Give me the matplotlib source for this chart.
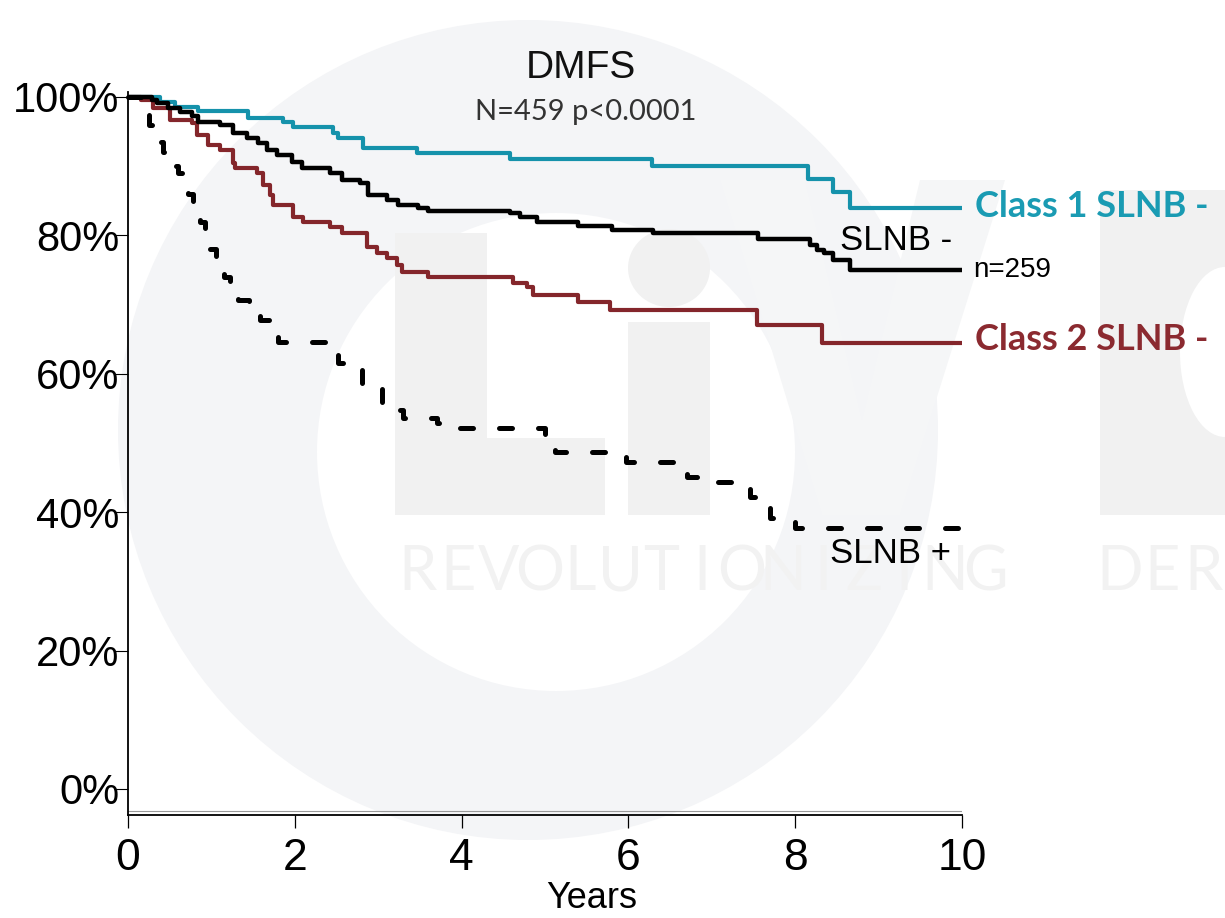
import matplotlib
matplotlib.use("Agg")
import matplotlib.pyplot as plt
from matplotlib.patches import Circle, Ellipse, Polygon, Rectangle

plt.rcParams["font.family"] = ["Liberation Sans", "DejaVu Sans"]

# Kaplan-Meier step data (years, survival %)
class1_years = [0, 0.38, 0.56, 0.84, 1.44, 1.86, 1.98, 2.46, 2.52, 2.82, 3.47, 4.58,
                6.28, 8.15, 8.45, 8.66]
class1_surv = [100, 99.3, 98.6, 98.0, 97.0, 96.4, 95.7, 94.8, 94.1, 92.6, 91.9, 91.0,
               90.0, 88.2, 86.3, 84.0]

slnb_neg_years = [0, 0.29, 0.35, 0.48, 0.62, 0.77, 0.84, 1.10, 1.26, 1.43, 1.56, 1.67,
                  1.79, 1.97, 2.09, 2.42, 2.57, 2.78, 2.88, 3.11, 3.24, 3.48, 3.60, 4.58,
                  4.70, 4.90, 5.40, 5.80, 6.29, 7.55, 8.18, 8.26, 8.35, 8.45, 8.66]
slnb_neg_surv = [100, 99.6, 99.1, 98.4, 97.8, 97.2, 96.4, 96.0, 94.8, 94.1, 93.3, 92.3,
                 91.6, 90.6, 89.7, 89.0, 88.0, 87.6, 85.8, 85.1, 84.4, 84.0, 83.5, 83.2,
                 82.7, 82.0, 81.4, 80.8, 80.3, 79.5, 78.6, 77.9, 77.5, 76.4, 75.0]

class2_years = [0, 0.15, 0.30, 0.50, 0.77, 0.83, 0.96, 1.10, 1.26, 1.28, 1.55, 1.62,
                1.70, 1.74, 1.98, 2.10, 2.42, 2.57, 2.87, 2.99, 3.11, 3.23, 3.29, 3.60,
                4.62, 4.78, 4.86, 5.40, 5.78, 7.54, 8.32]
class2_surv = [100, 99.5, 98.4, 96.7, 96.2, 94.5, 93.1, 92.3, 90.5, 89.7, 89.0, 87.3,
               85.8, 84.4, 82.7, 82.0, 81.2, 80.3, 78.3, 77.5, 76.7, 75.7, 74.7, 74.0,
               73.1, 72.5, 71.4, 70.4, 69.2, 67.1, 64.5]

slnb_pos_years = [0, 0.18, 0.25, 0.33, 0.42, 0.52, 0.60, 0.66, 0.72, 0.78, 0.86, 0.92,
                  0.97, 1.05, 1.15, 1.22, 1.32, 1.45, 1.58, 1.70, 1.80, 2.38, 2.52, 2.66,
                  2.80, 2.93, 3.05, 3.16, 3.30, 3.70, 3.88, 5.00, 5.12, 5.85, 5.97, 6.55,
                  6.70, 7.05, 7.35, 7.46, 7.60, 7.70, 7.90, 8.00]
slnb_pos_surv = [100, 98, 96, 93.5, 92, 90, 89, 88, 86, 84, 82, 80,
                 78, 76.5, 74, 72, 70.7, 69.2, 67.8, 66.3, 64.6, 63.2, 61.6, 60.5,
                 58.7, 57.9, 55.8, 54.8, 53.6, 52.9, 52.2, 50.7, 48.7, 48.0, 47.3, 45.8,
                 45.1, 44.4, 43.6, 42.2, 40.8, 39.2, 38.6, 37.7]

x_max = 10
x_ticks = [0, 2, 4, 6, 8, 10]
y_ticks = [0, 20, 40, 60, 80, 100]

TEAL = "#1592ab"
RED = "#84262b"
W, H = 1225, 918

fig = plt.figure(figsize=(W / 100, H / 100), dpi=100)

# faint watermark behind the plot
bg = fig.add_axes([0, 0, 1, 1], zorder=0)
bg.set_xlim(0, W)
bg.set_ylim(H, 0)
bg.axis("off")
wm = "#f4f5f7"
wm2 = "#f1f1f1"
bg.add_patch(Circle((528, 430), 410, color=wm, lw=0))
bg.add_patch(Circle((556, 452), 239, color="white", lw=0))
bg.add_patch(Rectangle((395, 233), 92, 282, color=wm2, lw=0))
bg.add_patch(Rectangle((395, 438), 210, 77, color=wm2, lw=0))
bg.add_patch(Ellipse((669, 268), 82, 78, color=wm2, lw=0))
bg.add_patch(Rectangle((628, 322), 82, 193, color=wm2, lw=0))
bg.add_patch(Polygon([(720, 180), (805, 180), (862, 420), (920, 180), (1005, 180),
                      (900, 515), (822, 515)], color="#f5f6f7", lw=0))
bg.add_patch(Rectangle((1100, 190), 125, 325, color=wm2, lw=0))
bg.add_patch(Ellipse((1225, 352), 90, 170, color="white", lw=0))
for i, ch in enumerate("REVOLUTIONIZING"):
    bg.text(418 + i * 40.5, 573, ch, ha="center", va="center", fontsize=44,
            family=["Lato", "DejaVu Sans"], color="#f2f2f2")
for i, ch in enumerate("DER"):
    bg.text(1120 + i * 42, 573, ch, ha="center", va="center", fontsize=44,
            family=["Lato", "DejaVu Sans"], color="#f2f2f2")

# main axes
left, right, bottom_px, top_px = 128, 962, 815, 92
ax = fig.add_axes([left / W, 1 - bottom_px / H, (right - left) / W, (bottom_px - top_px) / H],
                  zorder=1)
ax.set_facecolor("none")

ax.step(class1_years + [x_max], class1_surv + [class1_surv[-1]], where="post",
        color=TEAL, lw=3.0, solid_capstyle="butt", clip_on=False, zorder=3)
ax.step(class2_years + [x_max], class2_surv + [class2_surv[-1]], where="post",
        color=RED, lw=3.0, solid_capstyle="butt", clip_on=False, zorder=3)
ax.step(slnb_neg_years + [x_max], slnb_neg_surv + [slnb_neg_surv[-1]], where="post",
        color="black", lw=3.2, solid_capstyle="butt", clip_on=False, zorder=4)
ax.step(slnb_pos_years + [x_max], slnb_pos_surv + [slnb_pos_surv[-1]], where="post",
        color="black", lw=3.6, ls=(0, (2.6, 5.2)), dash_capstyle="round",
        clip_on=False, zorder=4)

ax.set_xlim(0, x_max)
ax.set_ylim(-3.76, 100.72)
ax.set_xticks(x_ticks)
ax.set_xticklabels([str(v) for v in x_ticks])
ax.set_yticks(y_ticks)
ax.set_yticklabels([f"{v}%" for v in y_ticks])
ax.tick_params(axis="x", length=9.5, width=0.9, pad=7, labelsize=32)
ax.tick_params(axis="y", length=10, width=0.8, pad=-4, labelsize=30)
for side in ("top", "right"):
    ax.spines[side].set_visible(False)
for side in ("left", "bottom"):
    ax.spines[side].set_linewidth(1.3)
ax.axhline(-3.2, color="#999999", lw=0.8, zorder=1)

# curve labels
ax.text(10.16, 84.2, "Class 1 SLNB -", color="#1a9bb3", fontsize=26, fontweight="bold",
        family=["Lato", "DejaVu Sans"], ha="left", va="center", clip_on=False)
ax.text(10.16, 64.9, "Class 2 SLNB -", color="#8b2a30", fontsize=26, fontweight="bold",
        family=["Lato", "DejaVu Sans"], ha="left", va="center", clip_on=False)
ax.text(8.54, 79.2, "SLNB -", color="black", fontsize=25, ha="left", va="center",
        clip_on=False)
ax.text(10.13, 75.0, "n=259", color="black", fontsize=20, ha="left", va="center",
        clip_on=False)
ax.text(8.42, 34.1, "SLNB +", color="black", fontsize=25, ha="left", va="center",
        clip_on=False)

# titles
fig.text(581 / W, 1 - 68 / H, "DMFS", ha="center", va="center", fontsize=28,
         color="#111111")
fig.text(586 / W, 1 - 112 / H, "N=459 p<0.0001", ha="center", va="center", fontsize=21,
         family=["Lato", "DejaVu Sans"], fontweight="normal", color="#333333")
fig.text(592 / W, 1 - 898 / H, "Years", ha="center", va="center", fontsize=26)

fig.savefig("out.png", dpi=100)
